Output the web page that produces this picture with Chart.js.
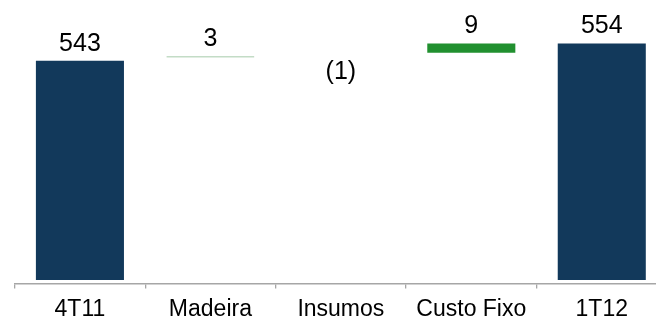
<!DOCTYPE html>
<html>
<head>
<meta charset="utf-8">
<script src="https://cdn.jsdelivr.net/npm/chart.js@4"></script>
<style>
  html, body { margin: 0; padding: 0; background: #fff; overflow: hidden; }
  #wrap { width: 670px; height: 330px; }
</style>
</head>
<body>
<div id="wrap"><canvas id="waterfall" width="670" height="330"></canvas></div>
<script>
// categories and values
const categories = ["4T11", "Madeira", "Insumos", "Custo Fixo", "1T12"];
const deltas = [543, 3, -1, 9, 554];
const barStart = [402.8, 543, 545, 548, 402.8];
const barEnd = [543, 546, 546, 554, 554];

const barColors = ["#12395b", "transparent", "transparent", "#21902f", "#12395b"];
const lineColors = ["#12395b", "#c3dcc6", "transparent", "#21902f", "#12395b"];

function fmt(v) {
  return v < 0 ? "(" + Math.abs(v) + ")" : String(v);
}

// draws the value above each bar (below for negative steps)
const valueLabels = {
  id: "valueLabels",
  afterDatasetsDraw(chart) {
    const ctx = chart.ctx;
    const meta = chart.getDatasetMeta(0);
    ctx.save();
    ctx.font = "25px 'Liberation Sans', Arial, sans-serif";
    ctx.fillStyle = "#000";
    ctx.textAlign = "center";
    ctx.textBaseline = "alphabetic";
    meta.data.forEach((bar, i) => {
      const p = bar.getProps(["x", "y", "base"], true);
      if (deltas[i] < 0) {
        ctx.fillText(fmt(deltas[i]), p.x, Math.max(p.y, p.base) + 21);
      } else {
        ctx.fillText(fmt(deltas[i]), p.x, Math.min(p.y, p.base) - 10);
      }
    });
    ctx.restore();
  }
};

let data = categories.map((c, i) => [barStart[i], barEnd[i]]);

new Chart(document.getElementById("waterfall"), {
  type: "bar",
  data: {
    labels: categories,
    datasets: [{
      data: data,
      backgroundColor: barColors,
      borderColor: lineColors,
      borderWidth: categories.map((c, i) => i == 1 ? {top: 1.5, left: 0, right: 0, bottom: 0} : 0),
      borderSkipped: false,
      categoryPercentage: 1,
      barPercentage: 0.675
    }]
  },
  options: {
    responsive: false,
    animation: false,
    events: [],
    layout: { padding: { left: 14.7, right: 3, top: 0, bottom: 0 } },
    plugins: {
      legend: { display: false },
      tooltip: { enabled: false }
    },
    scales: {
      x: {
        offset: true,
        grid: {
          offset: true,
          drawOnChartArea: false,
          drawTicks: true,
          tickLength: 5,
          color: "#a6a6a6",
          lineWidth: 1.3
        },
        border: { display: true, color: "#a6a6a6", width: 1.5 },
        ticks: {
          color: "#000",
          padding: 7,
          font: { family: "'Liberation Sans', Arial, sans-serif", size: 23 }
        }
      },
      y: {
        display: false,
        min: 400.6,
        max: 581.8
      }
    }
  },
  plugins: [valueLabels]
});
</script>
</body>
</html>
